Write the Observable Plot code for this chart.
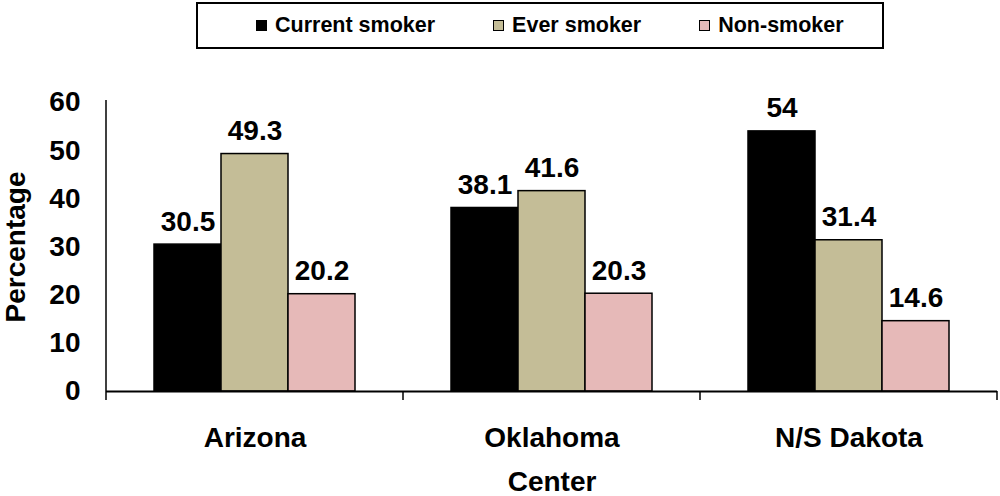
<!DOCTYPE html>
<html>
<head>
<meta charset="utf-8">
<script src="https://cdn.jsdelivr.net/npm/d3@7"></script>
<script src="https://cdn.jsdelivr.net/npm/@observablehq/plot@0.6"></script>
<style>
  html, body { margin: 0; padding: 0; background: #fff; }
  body { width: 1000px; height: 496px; overflow: hidden; font-family: "Liberation Sans", Arial, sans-serif; }
  #legendWrap { position: relative; height: 56px; width: 1000px; }
  #legend { position: absolute; left: 196px; top: 2px; width: 688px; height: 47px; border: 2px solid #000;
            display: flex; align-items: center; padding-left: 58px; box-sizing: border-box; gap: 58px;
            font-weight: bold; font-size: 21.5px; color: #000; }
  .item { display: flex; align-items: center; white-space: nowrap; }
  .sw { width: 9px; height: 9px; border: 1px solid #000; margin-right: 8px; }
</style>
</head>
<body>
<div id="legendWrap"><div id="legend"></div></div>
<div id="chart"></div>
<script>
const centers = ["Arizona", "Oklahoma", "N/S Dakota"];
const series = ["Current smoker", "Ever smoker", "Non-smoker"];
const currentSmoker = [30.5, 38.1, 54];
const everSmoker = [49.3, 41.6, 31.4];
const nonSmoker = [20.2, 20.3, 14.6];
const seriesColors = ["#000000", "#c4bd97", "#e6b9b8"];
const yTicks = [0, 10, 20, 30, 40, 50, 60];

const valuesBySeries = [currentSmoker, everSmoker, nonSmoker];
const rows = [];
centers.forEach((c, i) => series.forEach((s, j) => rows.push({center: c, series: s, value: valuesBySeries[j][i]})));

// legend
const legend = document.getElementById("legend");
series.forEach((s, j) => {
  const it = document.createElement("div"); it.className = "item";
  const sw = document.createElement("div"); sw.className = "sw"; sw.style.background = seriesColors[j];
  const t = document.createElement("span"); t.textContent = s;
  it.appendChild(sw); it.appendChild(t); legend.appendChild(it);
});

const plot = Plot.plot({
  width: 1000,
  height: 440,
  marginTop: 46,
  marginBottom: 105,
  marginLeft: 106,
  marginRight: 3,
  style: {fontFamily: "'Liberation Sans', Arial, sans-serif", fontWeight: "bold", fontSize: "28px", color: "#000", background: "#fff"},
  fx: {domain: centers, paddingInner: 0, paddingOuter: 0, label: "Center", labelAnchor: "center", labelArrow: false, labelOffset: 99, tickSize: 0, tickPadding: 36},
  x: {domain: series, paddingInner: 0, paddingOuter: 0.716, axis: null},
  y: {domain: [0, 60], ticks: yTicks, tickSize: 0, tickPadding: 26, label: "Percentage", labelAnchor: "center", labelArrow: false, labelOffset: 101, grid: false},
  color: {domain: series, range: seriesColors},
  marks: [
    Plot.barY(rows, {fx: "center", x: "series", y: "value", fill: "series", stroke: "#000", strokeWidth: 1.5}),
    Plot.text(rows, {fx: "center", x: "series", y: "value", text: d => String(d.value), lineAnchor: "bottom", dy: -14,
      fontSize: 28, fontWeight: "bold", fill: "#000"}),
    Plot.ruleY([0], {stroke: "#000", strokeWidth: 2})
  ]
});
document.getElementById("chart").appendChild(plot);

// axis line and category boundary ticks, placed through the plot's own scales
const fxS = plot.scale("fx");
const yS = plot.scale("y");
const y0 = yS.apply(0), yTop = yS.apply(60);
const lefts = centers.map(c => fxS.apply(c));
const bw = fxS.bandwidth;
const g = d3.select(plot).append("g").attr("stroke", "#000").attr("stroke-width", 1.5);
g.append("line").attr("x1", lefts[0]).attr("x2", lefts[0]).attr("y1", yTop - 2).attr("y2", y0);
[...lefts, lefts[lefts.length - 1] + bw].forEach(x => {
  g.append("line").attr("x1", x).attr("x2", x).attr("y1", y0).attr("y2", y0 + 9);
});
</script>
</body>
</html>
